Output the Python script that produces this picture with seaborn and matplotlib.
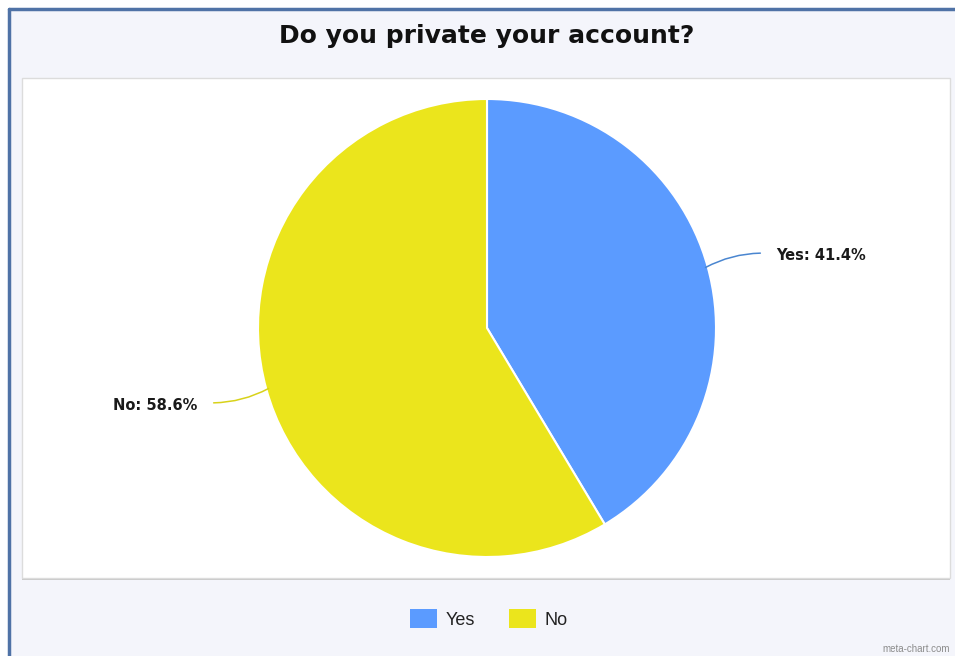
import matplotlib
matplotlib.use("Agg")
import matplotlib.pyplot as plt
from matplotlib.patches import Rectangle, Patch
import numpy as np
import seaborn as sns

# Survey answers
categories = ["Yes", "No"]
shares = [41.4, 58.6]
slice_colors = ["#5b9bff", "#ebe51c"]
title_text = "Do you private your account?"

sns.set_theme(style="white")
plt.rcParams["font.family"] = ["Liberation Sans", "DejaVu Sans"]

W, H = 955, 656
fig = plt.figure(figsize=(W / 100, H / 100), dpi=100)
fig.patch.set_facecolor("#ffffff")


def fx(px):
    return px / W


def fy(py):
    return 1 - py / H


# Window frame background and border
fig.patches.append(Rectangle((fx(9), 0), fx(W - 9), fy(9), transform=fig.transFigure,
                             facecolor="#f4f5fb", edgecolor="none", zorder=0))
fig.add_artist(plt.Line2D([fx(9), fx(9)], [0, fy(9)], transform=fig.transFigure,
                          color="#4f72a6", lw=2.5, zorder=1))
fig.add_artist(plt.Line2D([fx(9), 1], [fy(9), fy(9)], transform=fig.transFigure,
                          color="#4f72a6", lw=2.5, zorder=1))

# White plotting panel with a soft grey border
box_l, box_r, box_t, box_b = 22, 950, 78, 578
fig.patches.append(Rectangle((fx(box_l), fy(box_b) - fy(H - 2)), fx(box_r - box_l), fy(box_t) - fy(box_b),
                             transform=fig.transFigure, facecolor="#c9c9c9", edgecolor="none", zorder=1))
fig.patches.append(Rectangle((fx(box_l), fy(box_b)), fx(box_r - box_l), fy(box_t) - fy(box_b),
                             transform=fig.transFigure, facecolor="#ffffff", edgecolor="#dcdcdc",
                             lw=1, zorder=2))

# Pie axes covering the panel; radius 1 data unit = R pixels
cx, cy, R = 487, 328, 229
ax = fig.add_axes([fx(box_l), fy(box_b), fx(box_r - box_l), fy(box_t) - fy(box_b)])
ax.set_zorder(3)
ax.patch.set_alpha(0)
wedges, _ = ax.pie(shares, colors=slice_colors, startangle=90, counterclock=False,
                   radius=1, wedgeprops=dict(edgecolor="white", linewidth=1.5))
ax.set_aspect("auto")
ax.set_xlim(-(cx - box_l) / R, (box_r - cx) / R)
ax.set_ylim(-(box_b - cy) / R, (cy - box_t) / R)
ax.axis("off")

# Leader lines and value labels
line_colors = {"Yes": "#4a86d0", "No": "#d8d21a"}
cum = 0.0
total = sum(shares)
for name, val in zip(categories, shares):
    mid = np.deg2rad(90 - (cum + val / 2) / total * 360)
    cum += val
    ex, ey = np.cos(mid), np.sin(mid)
    side = 1 if ex >= 0 else -1
    end = (ex + side * 0.23, ey + 0.06 * np.sign(ey))
    ax.annotate("", xy=(ex * 0.99, ey * 0.99), xytext=end,
                arrowprops=dict(arrowstyle="-", color=line_colors[name], lw=1.1,
                                connectionstyle="arc3,rad=0.12",
                                shrinkA=0, shrinkB=0))
    ax.text(end[0] + side * 0.07, end[1] - 0.01, f"{name}: {val}%",
            ha="left" if side > 0 else "right", va="center",
            fontsize=10.5, fontweight="bold", color="#1a1a1a", family=["DejaVu Sans"])

# Title
fig.text(fx(487), fy(36), title_text, ha="center", va="center",
         fontsize=18, fontweight="bold", color="#111111", family=["DejaVu Sans"])

# Legend
handles = [Patch(facecolor=c, edgecolor="none", label=n) for n, c in zip(categories, slice_colors)]
fig.legend(handles=handles, loc="center", bbox_to_anchor=(fx(489), fy(619)), ncol=2,
           frameon=False, fontsize=13, handlelength=1.5, handleheight=1.2,
           handletextpad=0.45, columnspacing=1.9, labelcolor="#222222")

# Watermark
fig.text(fx(950), fy(649), "meta-chart.com", ha="right", va="center",
         fontsize=7, color="#8c8c8c")

fig.savefig("out.png", dpi=100)
